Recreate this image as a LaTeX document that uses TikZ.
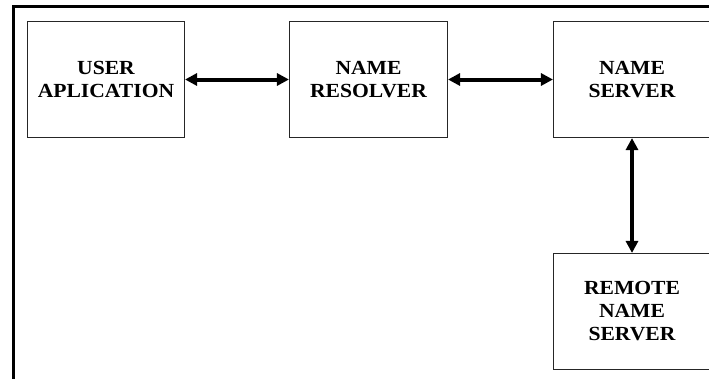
\documentclass[tikz,border=0pt]{standalone}
\usepackage{fontspec}
\setmainfont{Liberation Serif}[FakeStretch=1.08]
\usetikzlibrary{arrows.meta}
\begin{document}
\begin{tikzpicture}[x=1pt,y=-1pt,
  block/.style={draw=black!85, line width=1.1pt, rectangle, minimum width=157pt,
    minimum height=116pt, inner sep=0pt, align=center,
    font=\fontsize{20}{23}\selectfont\bfseries},
  link/.style={line width=4pt, {Triangle[length=12pt,width=12pt]}-{Triangle[length=12pt,width=12pt]}},
  frame/.style={line width=3pt}]
\clip (0,0) rectangle (709,378);
\fill[white] (0,0) rectangle (709,378);
% outer frame: top and left edges
\draw[frame] (12,6.5) -- (712,6.5);
\draw[frame] (13.5,5) -- (13.5,381);
% blocks
\node[block] (user) at (106,79.5) {USER\\APLICATION};
\node[block, minimum width=158pt] (res) at (368.5,79.5) {NAME\\RESOLVER};
\node[block] (ns) at (632,79.5) {NAME\\SERVER};
\node[block] (rns) at (632,311.5) {REMOTE\\NAME\\SERVER};
% connections
\draw[link] (user.east) -- (res.west);
\draw[link] (res.east) -- (ns.west);
\draw[link] (ns.south) -- (rns.north);
\end{tikzpicture}
\end{document}
